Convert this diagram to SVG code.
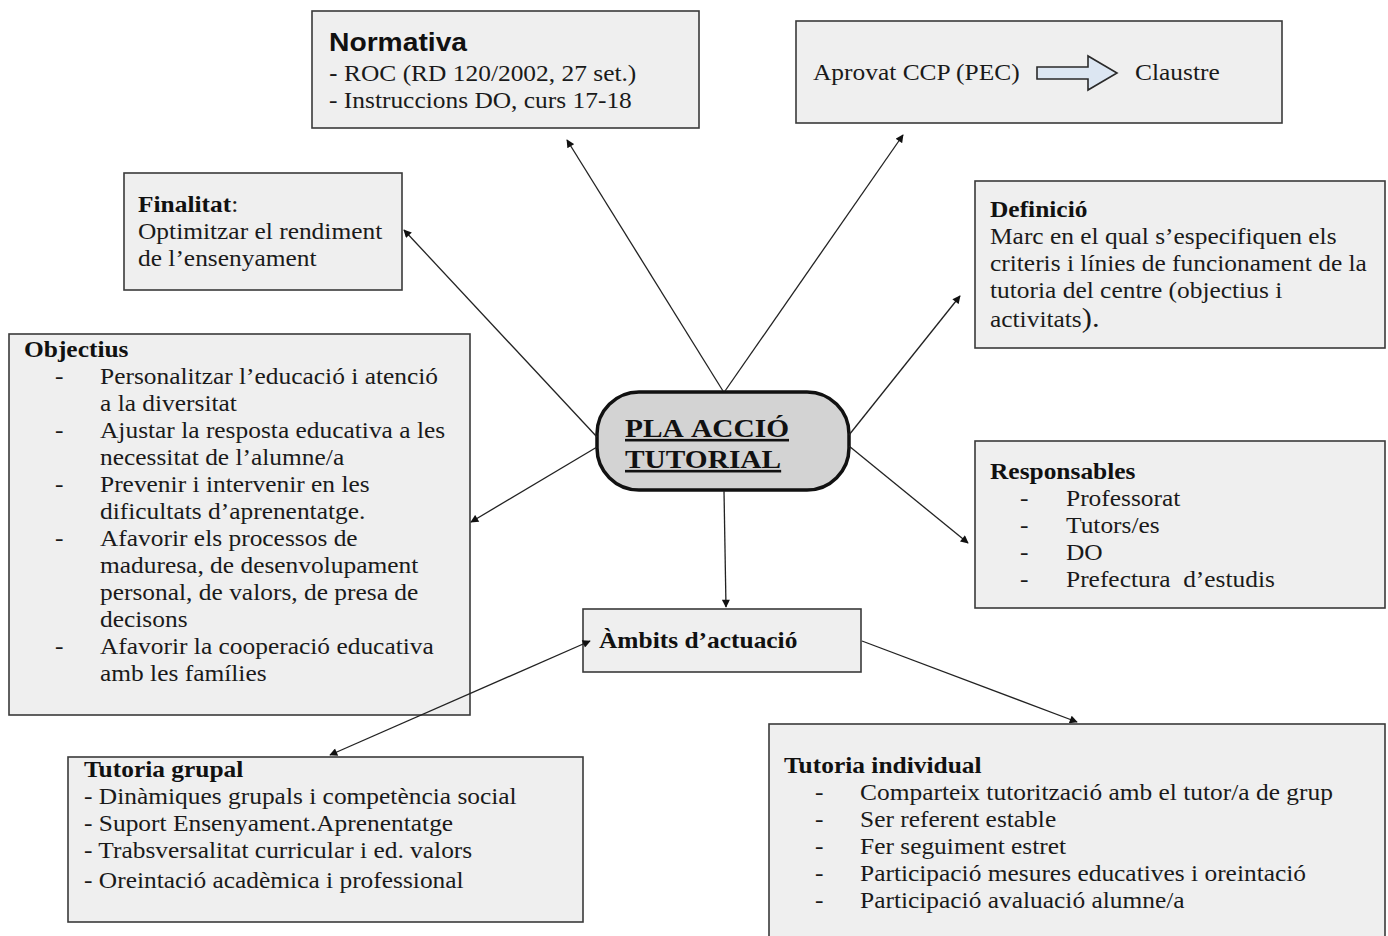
<svg xmlns="http://www.w3.org/2000/svg" width="1388" height="936" viewBox="0 0 1388 936">
<style>
.box{fill:#efefef;stroke:#3a3a3a;stroke-width:1.6}
.t{font-family:"Liberation Serif","Times New Roman",serif;font-size:22.5px;fill:#1a1a1a}
.b{font-weight:bold;fill:#111}
.s{font-family:"Liberation Sans",Arial,sans-serif;font-weight:bold;font-size:25px;fill:#111}
.c{stroke:#222;stroke-width:1.3;fill:none;marker-end:url(#ah)}
.ctr{font-family:"Liberation Serif","Times New Roman",serif;font-weight:bold;font-size:26px;fill:#111;text-decoration:underline}
</style>
<defs>
<marker id="ah" viewBox="0 0 10 10" refX="9" refY="5" markerWidth="9" markerHeight="8" markerUnits="userSpaceOnUse" orient="auto">
<path d="M0,0 L10,5 L0,10 z" fill="#111"/>
</marker>
<marker id="as" viewBox="0 0 10 10" refX="1" refY="5" markerWidth="9" markerHeight="8" markerUnits="userSpaceOnUse" orient="auto">
<path d="M10,0 L0,5 L10,10 z" fill="#111"/>
</marker>
</defs>
<rect width="1388" height="936" fill="#ffffff"/>

<g id="normativa">
<rect class="box" x="312" y="11" width="387" height="117"/>
<text class="s" transform="matrix(1.13 0 0 1 329 51)">Normativa</text>
<text class="t" transform="matrix(1.13 0 0 1 329 81)"><tspan font-family="Liberation Sans, Arial, sans-serif" font-size="23">-</tspan> ROC (RD 120/2002, 27 set.)</text>
<text class="t" transform="matrix(1.13 0 0 1 329 108)">- Instruccions DO, curs 17-18</text>
</g>

<g id="aprovat">
<rect class="box" x="796" y="21" width="486" height="102"/>
<text class="t" transform="matrix(1.13 0 0 1 813 80)">Aprovat CCP (PEC)</text>
<path d="M1037,67 L1088,67 L1088,56 L1117,73 L1088,90 L1088,79 L1037,79 Z" fill="#dce6f2" stroke="#2a2a2a" stroke-width="1.6"/>
<text class="t" transform="matrix(1.13 0 0 1 1135 80)">Claustre</text>
</g>

<g id="finalitat">
<rect class="box" x="124" y="173" width="278" height="117"/>
<text class="t" transform="matrix(1.13 0 0 1 138 212)"><tspan class="b">Finalitat</tspan>:</text>
<text class="t" transform="matrix(1.13 0 0 1 138 239)">Optimitzar el rendiment</text>
<text class="t" transform="matrix(1.13 0 0 1 138 266)">de l’ensenyament</text>
</g>

<g id="definicio">
<rect class="box" x="975" y="181" width="410" height="167"/>
<text class="t b" transform="matrix(1.13 0 0 1 990 217)">Definició</text>
<text class="t" transform="matrix(1.13 0 0 1 990 244)">Marc en el qual s’especifiquen els</text>
<text class="t" transform="matrix(1.13 0 0 1 990 271)">criteris i línies de funcionament de la</text>
<text class="t" transform="matrix(1.13 0 0 1 990 298)">tutoria del centre (objectius i</text>
<text class="t" transform="matrix(1.13 0 0 1 990 327)">activitats<tspan font-size="27">).</tspan></text>
</g>

<g id="objectius">
<rect class="box" x="9" y="334" width="461" height="381"/>
<text class="t b" transform="matrix(1.13 0 0 1 24 357)">Objectius</text>
<text class="t" transform="matrix(1.13 0 0 1 55 384)">-</text>
<text class="t" transform="matrix(1.13 0 0 1 100 384)">Personalitzar l’educació i atenció</text>
<text class="t" transform="matrix(1.13 0 0 1 100 411)">a la diversitat</text>
<text class="t" transform="matrix(1.13 0 0 1 55 438)">-</text>
<text class="t" transform="matrix(1.13 0 0 1 100 438)">Ajustar la resposta educativa a les</text>
<text class="t" transform="matrix(1.13 0 0 1 100 465)">necessitat de l’alumne/a</text>
<text class="t" transform="matrix(1.13 0 0 1 55 492)">-</text>
<text class="t" transform="matrix(1.13 0 0 1 100 492)">Prevenir i intervenir en les</text>
<text class="t" transform="matrix(1.13 0 0 1 100 519)">dificultats d’aprenentatge.</text>
<text class="t" transform="matrix(1.13 0 0 1 55 546)">-</text>
<text class="t" transform="matrix(1.13 0 0 1 100 546)">Afavorir els processos de</text>
<text class="t" transform="matrix(1.13 0 0 1 100 573)">maduresa, de desenvolupament</text>
<text class="t" transform="matrix(1.13 0 0 1 100 600)">personal, de valors, de presa de</text>
<text class="t" transform="matrix(1.13 0 0 1 100 627)">decisons</text>
<text class="t" transform="matrix(1.13 0 0 1 55 654)">-</text>
<text class="t" transform="matrix(1.13 0 0 1 100 654)">Afavorir la cooperació educativa</text>
<text class="t" transform="matrix(1.13 0 0 1 100 681)">amb les famílies</text>
</g>

<g id="center">
<rect x="597" y="392" width="252" height="98" rx="42" ry="42" fill="#d3d3d3" stroke="#111" stroke-width="3.5"/>
<text class="ctr" transform="matrix(1.13 0 0 1 625 437)">PLA&#160;ACCIÓ</text>
<text class="ctr" transform="matrix(1.13 0 0 1 625 468)">TUTORIAL</text>
</g>

<g id="responsables">
<rect class="box" x="975" y="441" width="410" height="167"/>
<text class="t b" transform="matrix(1.13 0 0 1 990 479)">Responsables</text>
<text class="t" transform="matrix(1.13 0 0 1 1020 506)">-</text>
<text class="t" transform="matrix(1.13 0 0 1 1066 506)">Professorat</text>
<text class="t" transform="matrix(1.13 0 0 1 1020 533)">-</text>
<text class="t" transform="matrix(1.13 0 0 1 1066 533)">Tutors/es</text>
<text class="t" transform="matrix(1.13 0 0 1 1020 560)">-</text>
<text class="t" transform="matrix(1.13 0 0 1 1066 560)">DO</text>
<text class="t" transform="matrix(1.13 0 0 1 1020 587)">-</text>
<text class="t" transform="matrix(1.13 0 0 1 1066 587)">Prefectura&#160; d’estudis</text>
</g>

<g id="ambits">
<rect class="box" x="583" y="609" width="278" height="63"/>
<text class="t b" transform="matrix(1.13 0 0 1 599 648)">Àmbits d’actuació</text>
</g>

<g id="tutoria-grupal">
<rect class="box" x="68" y="757" width="515" height="165"/>
<text class="t b" transform="matrix(1.13 0 0 1 84 777)">Tutoria grupal</text>
<text class="t" transform="matrix(1.13 0 0 1 84 804)">- Dinàmiques grupals i competència social</text>
<text class="t" transform="matrix(1.13 0 0 1 84 831)">- Suport Ensenyament.Aprenentatge</text>
<text class="t" transform="matrix(1.13 0 0 1 84 858)">- Trabsversalitat curricular i ed. valors</text>
<text class="t" transform="matrix(1.13 0 0 1 84 888)">- Oreintació acadèmica i professional</text>
</g>

<g id="tutoria-individual">
<rect class="box" x="769" y="724" width="616" height="214"/>
<text class="t b" transform="matrix(1.13 0 0 1 784 773)">Tutoria individual</text>
<text class="t" transform="matrix(1.13 0 0 1 815 800)">-</text>
<text class="t" transform="matrix(1.13 0 0 1 860 800)">Comparteix tutorització amb el tutor/a de grup</text>
<text class="t" transform="matrix(1.13 0 0 1 815 827)">-</text>
<text class="t" transform="matrix(1.13 0 0 1 860 827)">Ser referent estable</text>
<text class="t" transform="matrix(1.13 0 0 1 815 854)">-</text>
<text class="t" transform="matrix(1.13 0 0 1 860 854)">Fer seguiment estret</text>
<text class="t" transform="matrix(1.13 0 0 1 815 881)">-</text>
<text class="t" transform="matrix(1.13 0 0 1 860 881)">Participació mesures educatives i oreintació</text>
<text class="t" transform="matrix(1.13 0 0 1 815 908)">-</text>
<text class="t" transform="matrix(1.13 0 0 1 860 908)">Participació avaluació alumne/a</text>
</g>

<g id="connectors">
<line class="c" x1="723" y1="391" x2="567" y2="140"/>
<line class="c" x1="725" y1="391" x2="903" y2="135"/>
<line class="c" x1="597" y1="437" x2="404" y2="230"/>
<line class="c" x1="849" y1="435" x2="960" y2="296"/>
<line class="c" x1="597" y1="447" x2="471" y2="522"/>
<line class="c" x1="849" y1="446" x2="968" y2="543"/>
<line class="c" x1="724" y1="491" x2="726" y2="607"/>
<line class="c" x1="330" y1="755" x2="590" y2="641" style="marker-start:url(#as)"/>
<line class="c" x1="862" y1="641" x2="1077" y2="722"/>
</g>
</svg>
